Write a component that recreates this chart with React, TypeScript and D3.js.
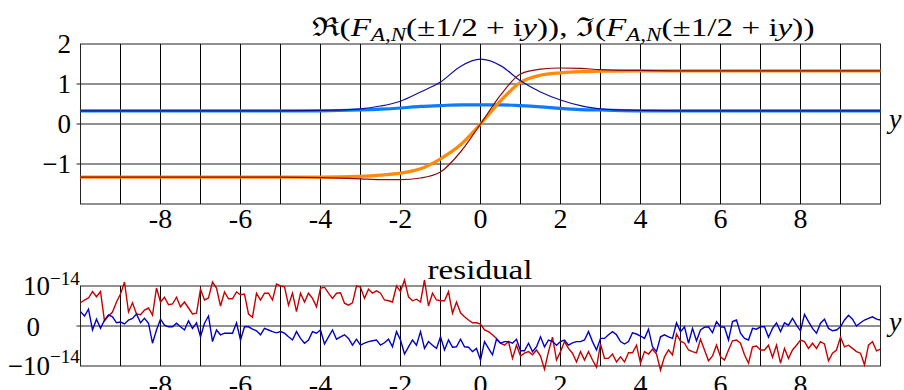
import React from "react";
import * as d3 from "d3";

// sample points of the upper panel curves
const curveX = [-10, -9, -8, -7, -6, -5, -4, -3, -2.5, -2, -1.5, -1, -0.5, 0, 0.5, 1, 1.5, 2, 2.5, 3, 4, 5, 6, 7, 8, 9, 10];
const reThin = [0.33, 0.33, 0.33, 0.33, 0.33, 0.33, 0.34, 0.38, 0.45, 0.57, 0.8, 1.05, 1.44, 1.62, 1.46, 1.08, 0.8, 0.6, 0.46, 0.38, 0.34, 0.33, 0.33, 0.33, 0.33, 0.33, 0.33];
const reThick = [0.33, 0.33, 0.33, 0.33, 0.33, 0.33, 0.33, 0.35, 0.37, 0.4, 0.44, 0.46, 0.48, 0.48, 0.48, 0.46, 0.43, 0.39, 0.36, 0.35, 0.33, 0.33, 0.33, 0.33, 0.33, 0.33, 0.33];
const imThin = [-1.33, -1.33, -1.33, -1.33, -1.33, -1.33, -1.34, -1.37, -1.39, -1.39, -1.35, -1.2, -0.7, 0, 0.72, 1.25, 1.37, 1.4, 1.39, 1.36, 1.34, 1.33, 1.33, 1.33, 1.33, 1.33, 1.33];
const imThick = [-1.33, -1.33, -1.33, -1.33, -1.33, -1.33, -1.33, -1.31, -1.28, -1.23, -1.12, -0.87, -0.52, 0, 0.58, 1.04, 1.22, 1.28, 1.31, 1.32, 1.33, 1.33, 1.33, 1.33, 1.33, 1.33, 1.33];

// residuals, in units of 1e-14, at y = -10, -9.9, ..., 10
const RES_UNIT = 1e-14;
const resRed = [
  0.58, 0.65, 0.7, 0.86, 0.73, 0.86, 0.13, 0.25, 0.35, 0.6, 0.8, 1.1, 0.35, 0.58, 0.3, 0.28, 0.4, 0.45, 0.27, 0.95,
  0.6, 0.72, 0.53, 0.55, 0.72, 0.48, 0.6, 0.45, 0.3, 0.32, 0.92, 0.65, 0.7, 1.1, 0.95, 0.5, 0.85, 0.68, 0.68, 0.85,
  0.78, 0.8, 0.3, 0.22, 0.82, 0.65, 0.82, 0.82, 0.65, 1.05, 1.0,
  0.98, 0.52, 0.82, 0.36, 0.82, 0.6, 0.82, 0.69, 0.48, 0.94, 0.97, 0.82, 0.69, 0.82, 0.83, 0.57, 0.52, 0.58, 1.0,
  0.97, 0.69, 0.92, 0.82, 0.88, 0.82, 0.65, 0.63, 0.6, 1.0, 0.86, 1.15, 0.73, 0.63, 0.67, 0.6, 1.15, 0.5, 0.82, 0.65,
  0.63, 0.63, 0.86, 0.32, 0.6, 0.33, 0.23, 0.15, 0.08, 0.08, 0.05,
  -0.1, -0.14, -0.22, -0.31, -0.43, -0.48, -0.39, -0.81, -0.48, -0.75, -0.68, -0.64, -0.72, -0.6, -0.75, -1.08, -0.64, -0.28, -0.85,
  -0.64, -0.39, -0.56, -0.68, -0.9, -0.64, -0.85, -0.64, -0.85, -1.03, -0.45, -0.81, -0.81, -0.7, -0.9, -0.77, -0.9, -0.67, -0.67, -0.48,
  -0.93, -0.64, -0.7, -0.58, -0.7, -1.1, -0.77, -0.6, -0.72, -0.2, -0.38,
  -0.43, -0.6, -0.64, -0.67, -0.33, -0.6, -0.87, -0.75, -0.48, -0.77, -0.85, -0.6, -0.37, -0.35, -0.43, -0.72, -0.93, -0.52, -0.5,
  -0.6, -0.6, -0.48, -0.78, -0.48, -0.93, -0.56, -0.81, -0.6, -0.48, -0.35, -0.39, -0.56, -0.43, -0.56, -0.39, -0.45, -0.87, -0.68, -0.6,
  -0.28, -0.52, -0.48, -0.56, -0.64, -0.68, -0.97, -0.48, -0.39, -0.62, -0.58,
];
const resBlue = [
  0.36, 0.25, 0.42, -0.1, 0.17, -0.06, 0.15, 0.28, 0.23, 0.08, 0.1, 0.05, 0.15, 0.19, 0.3, 0.08, 0.19, 0.07, -0.43, -0.1,
  0.17, 0.02, -0.02, -0.02, 0.07, -0.02, -0.1, 0.13, -0.06, 0.08, -0.27, 0.07, 0.25, -0.39, -0.1, -0.22, -0.18, -0.18, -0.18, 0.08,
  -0.35, -0.02, -0.02, -0.08, -0.12, -0.22, -0.06, -0.1, -0.14, -0.17, -0.14,
  -0.18, -0.27, -0.35, -0.14, -0.31, -0.43, -0.35, -0.14, -0.18, -0.1, -0.45, -0.27, -0.1, -0.33, -0.27, -0.22, -0.31, -0.48, -0.33,
  -0.48, -0.43, -0.39, -0.37, -0.35, -0.48, -0.42, -0.33, -0.52, -0.14, -0.35, -0.7, -0.52, -0.35, -0.48, -0.14, -0.56, -0.39, -0.48, -0.56,
  -0.27, -0.6, -0.35, -0.53, -0.52, -0.33, -0.52, -0.53, -0.64, -0.56, -0.85,
  -0.39, -0.56, -0.72, -0.33, -0.43, -0.39, -0.39, -0.43, -0.33, -0.62, -0.62, -0.43, -0.64, -0.52, -0.27, -0.52, -0.35, -0.39, -0.48,
  -0.39, -0.35, -0.48, -0.42, -0.39, -0.39, -0.35, -0.14, -0.39, -0.6, -0.31, -0.31, -0.22, -0.14, -0.22, -0.39, -0.45, -0.39, -0.17, -0.2,
  -0.25, -0.31, -0.08, -0.52, -0.64, -0.27, -0.22, -0.27, -0.31, 0.08, -0.14,
  -0.02, -0.43, -0.06, -0.37, -0.1, -0.03, -0.02, -0.17, 0.11, -0.02, -0.03, -0.35, 0.11, 0.15, -0.18, -0.31, -0.35, -0.06, -0.08,
  -0.02, -0.02, -0.28, -0.06, 0.08, -0.14, 0.08, 0.02, 0.19, 0.02, -0.12, 0.29, 0.11, -0.06, -0.18, 0.07, 0.17, -0.06, -0.12, -0.1,
  -0.02, 0.15, 0.27, 0.17, 0, 0.08, 0.15, 0.19, 0.23, 0.17, 0.15,
];

const xTicks = [-8, -6, -4, -2, 0, 2, 4, 6, 8];
const yTicksTop = [2, 1, 0, -1];
const gridX = d3.range(-10, 11);

const serif = { fontFamily: "'Liberation Serif'" };
const W = 904;
const H = 390;

const App = () => {
  const x = d3.scaleLinear().domain([-10, 10]).range([80.5, 880.5]);
  const yTop = d3.scaleLinear().domain([-2, 2]).range([204, 44]);
  const yBot = d3.scaleLinear().domain([-RES_UNIT, RES_UNIT]).range([366, 286]);

  const smooth = d3
    .line<number>()
    .x((_, i) => x(curveX[i]))
    .y((d) => yTop(d))
    .curve(d3.curveMonotoneX);

  const resX = resRed.map((_, i) => -10 + i * 0.1);
  const rough = d3
    .line<number>()
    .x((_, i) => x(resX[i]))
    .y((d) => yBot(d * RES_UNIT));

  const minus = (v: number) => (v < 0 ? "\u2212" + Math.abs(v) : String(v));

  return (
    <svg width={W} height={H} style={{ position: "absolute", left: 0, top: 0 }}>
      <rect width={W} height={H} fill="white" />

      {/* upper panel */}
      <g>
        {gridX.map((t) => (
          <line key={t} x1={x(t)} x2={x(t)} y1={yTop(2)} y2={yTop(-2)} stroke="#000" strokeWidth={1} />
        ))}
        {[1, 0, -1].map((t) => (
          <line key={t} x1={x(-10) - 4} x2={x(10)} y1={yTop(t)} y2={yTop(t)} stroke="#222" strokeWidth={1} />
        ))}
        <rect x={x(-10)} y={yTop(2)} width={x(10) - x(-10)} height={yTop(-2) - yTop(2)} fill="none" stroke="#222" />

        <path d={smooth(reThick) || ""} fill="none" stroke="#0a7cff" strokeWidth={3.2} />
        <path d={smooth(imThick) || ""} fill="none" stroke="#ff8a0a" strokeWidth={3.2} />
        <path d={smooth(reThin) || ""} fill="none" stroke="#10109a" strokeWidth={1.2} />
        <path d={smooth(imThin) || ""} fill="none" stroke="#8b0b0b" strokeWidth={1.2} />

        {yTicksTop.map((t) => (
          <text key={t} x={71} y={yTop(t) + 9} fontSize={27} textAnchor="end" style={serif}>
            {minus(t)}
          </text>
        ))}
        {xTicks.map((t) => (
          <text key={t} x={x(t)} y={228} fontSize={28} textAnchor="middle" style={serif}>
            {String(t)}
          </text>
        ))}
        <text x={889} y={128} fontSize={28} fontStyle="italic" style={serif}>
          y
        </text>
        <text x={563} y={36} fontSize={26} textAnchor="middle" textLength={503} lengthAdjust="spacingAndGlyphs" style={serif}>
          {"\u211C("}
          <tspan fontStyle="italic">F</tspan>
          <tspan fontStyle="italic" fontSize={18} dy={5}>A,N</tspan>
          <tspan dy={-5}>{"(\u00B11/2 + i"}</tspan>
          <tspan fontStyle="italic">y</tspan>
          <tspan>{")), \u2111("}</tspan>
          <tspan fontStyle="italic">F</tspan>
          <tspan fontStyle="italic" fontSize={18} dy={5}>A,N</tspan>
          <tspan dy={-5}>{"(\u00B11/2 + i"}</tspan>
          <tspan fontStyle="italic">y</tspan>
          <tspan>{"))"}</tspan>
        </text>
      </g>

      {/* residual panel */}
      <g>
        {gridX.map((t) => (
          <line key={t} x1={x(t)} x2={x(t)} y1={yBot(RES_UNIT)} y2={yBot(-RES_UNIT)} stroke="#000" strokeWidth={1} />
        ))}
        <line x1={x(-10) - 4} x2={x(10)} y1={yBot(0)} y2={yBot(0)} stroke="#222" />
        <rect x={x(-10)} y={yBot(RES_UNIT)} width={x(10) - x(-10)} height={yBot(-RES_UNIT) - yBot(RES_UNIT)} fill="none" stroke="#222" />

        <path d={rough(resRed) || ""} fill="none" stroke="#c80000" strokeWidth={1.4} />
        <path d={rough(resBlue) || ""} fill="none" stroke="#0000c8" strokeWidth={1.4} />

        <text x={50} y={295} fontSize={27} textAnchor="end" style={serif}>10</text>
        <text x={50} y={285} fontSize={19} style={serif}>{"\u221214"}</text>
        <text x={40} y={336} fontSize={27} textAnchor="end" style={serif}>0</text>
        <text x={50} y={375} fontSize={27} textAnchor="end" style={serif}>{"\u221210"}</text>
        <text x={50} y={363} fontSize={19} style={serif}>{"\u221214"}</text>

        {xTicks.map((t) => (
          <text key={t} x={x(t)} y={394} fontSize={28} textAnchor="middle" style={serif}>
            {String(t)}
          </text>
        ))}
        <text x={889} y={331} fontSize={28} fontStyle="italic" style={serif}>
          y
        </text>
        <text x={480} y={279} fontSize={27} textAnchor="middle" textLength={105} lengthAdjust="spacingAndGlyphs" style={serif}>
          residual
        </text>
      </g>
    </svg>
  );
};

export default App;
